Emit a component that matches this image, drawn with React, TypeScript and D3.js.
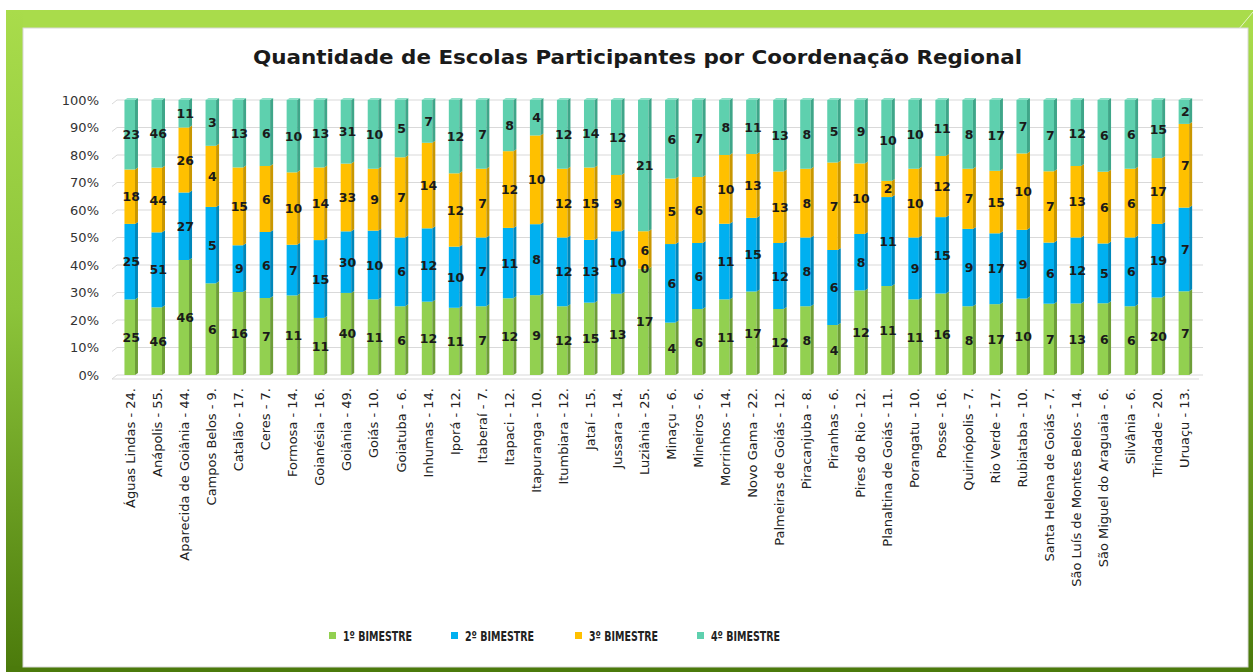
import React from "react";
import * as d3 from "d3";

const categories = [
  "Águas Lindas - 24.", "Anápolis - 55.", "Aparecida de Goiânia - 44.", "Campos Belos - 9.",
  "Catalão - 17.", "Ceres - 7.", "Formosa - 14.", "Goianésia - 16.", "Goiânia - 49.",
  "Goiás - 10.", "Goiatuba - 6.", "Inhumas - 14.", "Iporá - 12.", "Itaberaí - 7.",
  "Itapaci - 12.", "Itapuranga - 10.", "Itumbiara - 12.", "Jataí - 15.", "Jussara - 14.",
  "Luziânia - 25.", "Minaçu - 6.", "Mineiros - 6.", "Morrinhos - 14.", "Novo Gama - 22.",
  "Palmeiras de Goiás - 12.", "Piracanjuba - 8.", "Piranhas - 6.", "Pires do Rio - 12.",
  "Planaltina de Goiás - 11.", "Porangatu - 10.", "Posse - 16.", "Quirinópolis - 7.",
  "Rio Verde - 17.", "Rubiataba - 10.", "Santa Helena de Goiás - 7.",
  "São Luís de Montes Belos - 14.", "São Miguel do Araguaia - 6.", "Silvânia - 6.",
  "Trindade - 20.", "Uruaçu - 13.",
];

const bimestre1 = [25, 46, 46, 6, 16, 7, 11, 11, 40, 11, 6, 12, 11, 7, 12, 9, 12, 15, 13, 17, 4, 6, 11, 17, 12, 8, 4, 12, 11, 11, 16, 8, 17, 10, 7, 13, 6, 6, 20, 7];
const bimestre2 = [25, 51, 27, 5, 9, 6, 7, 15, 30, 10, 6, 12, 10, 7, 11, 8, 12, 13, 10, 0, 6, 6, 11, 15, 12, 8, 6, 8, 11, 9, 15, 9, 17, 9, 6, 12, 5, 6, 19, 7];
const bimestre3 = [18, 44, 26, 4, 15, 6, 10, 14, 33, 9, 7, 14, 12, 7, 12, 10, 12, 15, 9, 6, 5, 6, 10, 13, 13, 8, 7, 10, 2, 10, 12, 7, 15, 10, 7, 13, 6, 6, 17, 7];
const bimestre4 = [23, 46, 11, 3, 13, 6, 10, 13, 31, 10, 5, 7, 12, 7, 8, 4, 12, 14, 12, 21, 6, 7, 8, 11, 13, 8, 5, 9, 10, 10, 11, 8, 17, 7, 7, 12, 6, 6, 15, 2];

const seriesNames = ["1º BIMESTRE", "2º BIMESTRE", "3º BIMESTRE", "4º BIMESTRE"];
const yTicks = [0, 0.1, 0.2, 0.3, 0.4, 0.5, 0.6, 0.7, 0.8, 0.9, 1];

const colors = ["#92D050", "#00B0F0", "#FFC000", "#5ED0AE"];
const sideColors = ["#6E9E38", "#0087BA", "#C99700", "#3FA689"];
const topColors = ["#B4E27E", "#5CCBF5", "#FFD45C", "#8FE0C8"];

export default function App() {
  const W = 1253, H = 672;
  const seriesData = [bimestre1, bimestre2, bimestre3, bimestre4];
  const rows = categories.map((c, i) => {
    const row: any = { name: c };
    seriesNames.forEach((s, k) => (row[s] = seriesData[k][i]));
    return row;
  });
  const stack = d3.stack<any>().keys(seriesNames).offset(d3.stackOffsetExpand);
  const stacked = stack(rows);

  const x = d3.scaleBand<string>().domain(categories).range([117.7, 1198.9]).paddingInner(0.5).paddingOuter(0.25);
  const y = d3.scaleLinear().domain([0, 1]).range([375, 100]);
  const bw = x.bandwidth();
  const side = 3;
  const front = bw - side;
  const font = "'DejaVu Sans', Verdana, sans-serif";

  return (
    <svg width={W} height={H} style={{ position: "absolute", left: 0, top: 0, display: "block" }}>
      <defs>
        <linearGradient id="leftG" x1="0" y1="0" x2="0" y2="1">
          <stop offset="0" stopColor="#A9DC4B" />
          <stop offset="0.45" stopColor="#8CC43A" />
          <stop offset="1" stopColor="#4B7A0B" />
        </linearGradient>
        <linearGradient id="rightG" x1="0" y1="0" x2="0" y2="1">
          <stop offset="0" stopColor="#A9DC4B" />
          <stop offset="1" stopColor="#4B7A0B" />
        </linearGradient>
      </defs>
      <rect x={0} y={0} width={W} height={H} fill="#fff" />
      {/* frame */}
      <rect x={6} y={10} width={W - 6} height={20} fill="#A9DC4B" />
      <rect x={6} y={10} width={17} height={H - 10} fill="url(#leftG)" />
      <rect x={6} y={666} width={W - 6} height={6} fill="#4B7A0B" />
      <rect x={1248} y={28} width={5} height={H - 28} fill="url(#rightG)" />
      <line x1={1238} y1={30} x2={1253} y2={12} stroke="#E6F5CC" strokeWidth={1} />
      <rect x={23} y={28} width={1225} height={639} fill="#fff" stroke="#d8d8d8" strokeWidth={1} />

      {/* title */}
      <text x={637.5} y={64} textAnchor="middle" fontFamily={font} fontWeight="bold" fontSize={19}
        fill="#1a1a1a" textLength={769} lengthAdjust="spacingAndGlyphs">
        Quantidade de Escolas Participantes por Coordenação Regional
      </text>

      {/* gridlines */}
      {yTicks.map((t) => (
        <g key={t}>
          <polyline points={`${112},${y(t) + 4} ${117},${y(t)} ${1203},${y(t)}`} fill="none"
            stroke="#D9D9D9" strokeWidth={1} />
          <text x={99} y={y(t)} dy="0.35em" textAnchor="end" fontFamily={font} fontSize={13} fill="#333">
            {`${Math.round(t * 100)}%`}
          </text>
        </g>
      ))}
      <line x1={112} y1={379} x2={1199} y2={379} stroke="#D9D9D9" strokeWidth={1} />

      {/* bars */}
      {stacked.map((s, k) => (
        <g key={s.key}>
          {s.map((d, i) => {
            const bx = x(categories[i]) as number;
            const y0 = y(d[0]);
            const y1 = y(d[1]);
            const h = y0 - y1;
            return (
              <g key={i}>
                <rect x={bx} y={y1} width={front} height={Math.max(0, h)} fill={colors[k]} />
                <polygon
                  points={`${bx + front},${y1} ${bx + bw},${y1 - 2} ${bx + bw},${y0 - 2} ${bx + front},${y0}`}
                  fill={sideColors[k]}
                />
                {k === 3 && (
                  <polygon
                    points={`${bx},${y1} ${bx + side},${y1 - 2} ${bx + bw},${y1 - 2} ${bx + front},${y1}`}
                    fill={topColors[k]}
                  />
                )}
              </g>
            );
          })}
        </g>
      ))}

      {/* data labels */}
      {stacked.map((s, k) => (
        <g key={"l" + s.key}>
          {s.map((d, i) => {
            const cx = (x(categories[i]) as number) + bw / 2;
            const cy = y((d[0] + d[1]) / 2);
            return (
              <text key={i} x={cx} y={cy} dy="0.36em" textAnchor="middle" fontFamily={font}
                fontWeight="bold" fontSize={12.5} fill="#1a1a1a">
                {seriesData[k][i]}
              </text>
            );
          })}
        </g>
      ))}

      {/* x labels */}
      {categories.map((c) => {
        const cx = (x(c) as number) + bw / 2 + 4;
        return (
          <text key={c} transform={`translate(${cx},${388}) rotate(-90)`} textAnchor="end"
            fontFamily={font} fontSize={13} fill="#222">
            {c}
          </text>
        );
      })}

      {/* legend */}
      {seriesNames.map((s, k) => {
        const lx = [329, 451, 575, 697][k];
        return (
          <g key={s}>
            <rect x={lx} y={632} width={7} height={7} fill={colors[k]} />
            <text x={lx + 14} y={640.5} fontFamily={font} fontWeight="bold" fontSize={13.5} fill="#222"
              textLength={69} lengthAdjust="spacingAndGlyphs">
              {s}
            </text>
          </g>
        );
      })}
    </svg>
  );
}
